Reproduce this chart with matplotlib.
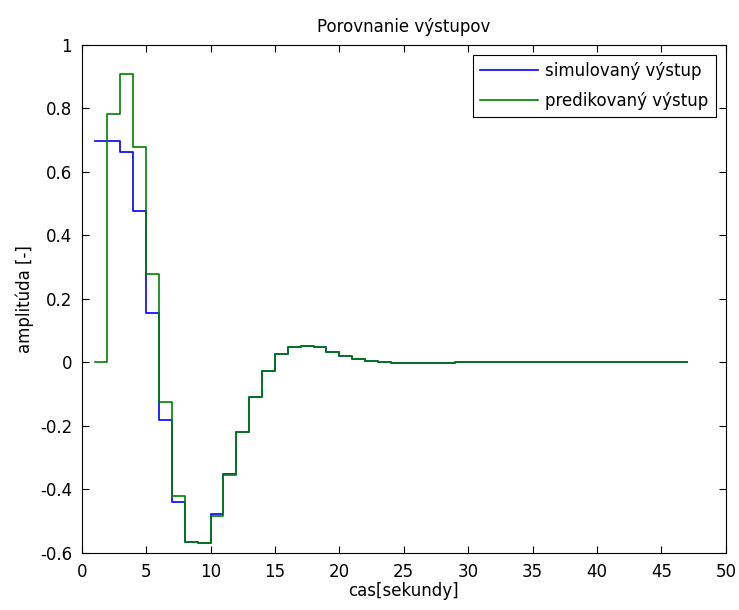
import matplotlib
matplotlib.use("Agg")
import matplotlib.pyplot as plt
import numpy as np

plt.rcParams['font.family'] = ['DejaVu Sans']

t = list(range(1, 48))
simulated = [0.698, 0.698, 0.663, 0.478, 0.156, -0.181, -0.438, -0.565, -0.567, -0.476,
             -0.351, -0.22, -0.108, -0.027, 0.025, 0.049, 0.053, 0.048, 0.032, 0.020,
             0.011, 0.006, 0.002, -0.002, -0.002, -0.002, -0.002, -0.002] + [0.0] * 19
predicted = [0.0, 0.782, 0.907, 0.679, 0.277, -0.126, -0.42, -0.565, -0.570, -0.485,
             -0.355, -0.22, -0.108, -0.027, 0.025, 0.049, 0.053, 0.048, 0.032, 0.020,
             0.011, 0.006, 0.002, -0.002, -0.002, -0.002, -0.002, -0.002] + [0.0] * 19

title = "Porovnanie výstupov"
xlabel = "cas[sekundy]"
ylabel = "amplitúda [-]"
labels = ["simulovaný výstup", "predikovaný výstup"]

fs = 12
fig = plt.figure(figsize=(7.39, 6.10), dpi=100)
ax = fig.add_axes([0.1106, 0.0934, 0.8715, 0.8333])
ax.step(t, simulated, where='post', color=(0, 0, 1), lw=1.2, label=labels[0])
ax.step(t, predicted, where='post', color=(0, 0.5, 0), lw=1.2, label=labels[1])

ax.set_xlim(0, 50)
ax.set_ylim(-0.6, 1.0)
ax.set_xticks(np.arange(0, 51, 5))
ax.set_yticks(np.arange(-0.6, 1.01, 0.2))
ax.set_yticklabels(["-0.6", "-0.4", "-0.2", "0", "0.2", "0.4", "0.6", "0.8", "1"])
ax.tick_params(direction='in', top=True, right=True, labelsize=fs, length=5, pad=7)
ax.set_title(title, fontsize=fs, pad=9)
ax.set_xlabel(xlabel, fontsize=fs, labelpad=1)
ax.set_ylabel(ylabel, fontsize=fs, labelpad=4)
leg = ax.legend(loc='upper right', fontsize=fs, fancybox=False, framealpha=1,
                edgecolor='black', borderaxespad=0.6, handlelength=3.5,
                borderpad=0.45, labelspacing=0.7, handletextpad=0.4)
leg.get_frame().set_linewidth(0.8)

fig.savefig("out.png", dpi=100)
